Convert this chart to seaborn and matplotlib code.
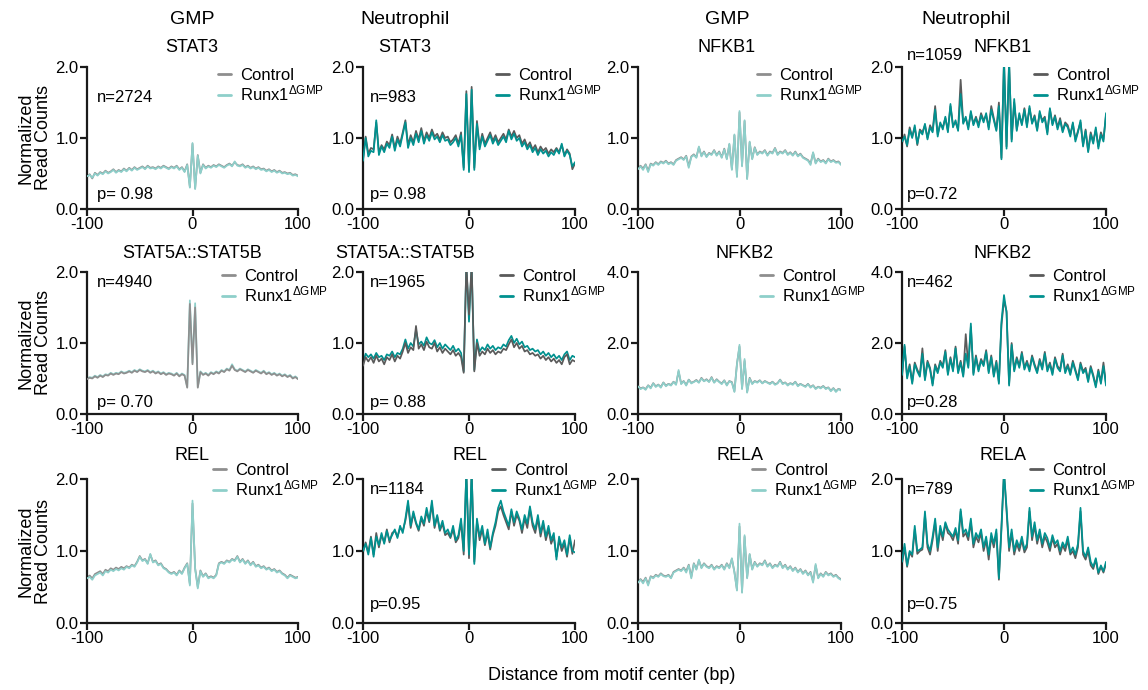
import numpy as np
import pandas as pd
import matplotlib
matplotlib.use("Agg")
import matplotlib.pyplot as plt
import seaborn as sns
from matplotlib.lines import Line2D

sns.set_style("ticks")
plt.rcParams['font.family'] = ['Liberation Sans', 'DejaVu Sans']
plt.rcParams['mathtext.fontset'] = 'custom'
plt.rcParams['mathtext.rm'] = 'Liberation Sans'
plt.rcParams['mathtext.default'] = 'regular'
plt.rcParams['axes.unicode_minus'] = False
plt.rcParams['text.color'] = 'black'
plt.rcParams['xtick.color'] = 'black'
plt.rcParams['ytick.color'] = 'black'

# distance from motif center, bp (2.5 bp bins)
pos = np.linspace(-100, 100, 81)

# ---- GMP STAT3
gmp_stat3_ctrl = [0.45,0.49,0.43,0.51,0.48,0.52,0.50,0.54,0.51,0.53,0.56,0.52,0.55,0.53,0.57,0.54,
                  0.58,0.55,0.59,0.56,0.58,0.60,0.57,0.61,0.58,0.59,0.57,0.60,0.58,0.61,0.59,0.57,
                  0.60,0.58,0.61,0.56,0.59,0.53,0.63,0.31,0.92,
                  0.29,0.76,0.51,0.63,0.58,0.61,0.59,0.62,
                  0.60,0.63,0.61,0.59,0.62,0.64,0.61,0.66,0.62,0.61,0.63,0.59,0.61,0.58,0.60,0.57,
                  0.59,0.56,0.57,0.54,0.56,0.53,0.55,0.52,0.54,0.51,0.52,0.50,0.51,0.48,0.49,0.47]
gmp_stat3_runx1 = [0.46,0.48,0.44,0.50,0.47,0.51,0.49,0.53,0.50,0.52,0.55,0.51,0.54,0.52,0.56,0.53,
                   0.57,0.54,0.58,0.55,0.57,0.59,0.56,0.60,0.57,0.58,0.56,0.59,0.57,0.60,0.58,0.56,
                   0.59,0.57,0.60,0.55,0.58,0.52,0.62,0.30,0.93,
                   0.28,0.75,0.50,0.62,0.57,0.60,0.58,0.61,
                   0.59,0.62,0.60,0.58,0.61,0.63,0.60,0.67,0.61,0.60,0.62,0.58,0.60,0.57,0.59,0.56,
                   0.58,0.55,0.56,0.53,0.55,0.52,0.54,0.51,0.53,0.50,0.51,0.49,0.50,0.47,0.48,0.46]

# ---- Neutrophil STAT3
neu_stat3_ctrl = [0.70,1.02,0.78,0.86,0.84,1.22,0.80,0.90,0.84,0.95,0.90,1.05,0.86,1.02,0.92,1.08,
                  1.25,0.90,1.04,0.94,1.10,0.98,1.14,0.96,1.08,1.00,1.12,1.02,1.06,0.98,1.08,1.00,
                  1.02,0.94,0.98,1.04,0.92,1.08,0.58,1.66,0.55,
                  1.72,0.58,1.24,0.88,1.06,0.92,1.00,1.08,
                  0.96,1.04,0.94,1.00,1.06,0.98,1.12,1.02,1.10,1.00,1.04,0.92,0.98,0.88,0.94,0.84,
                  0.90,0.80,0.88,0.82,0.86,0.78,0.84,0.80,0.86,0.80,0.90,0.76,0.84,0.78,0.56,0.64]
neu_stat3_runx1 = [0.68,1.00,0.74,0.82,0.80,1.25,0.76,0.88,0.80,0.92,0.86,1.02,0.82,0.98,0.88,1.05,
                   1.22,0.86,1.00,0.90,1.06,0.94,1.10,0.92,1.04,0.96,1.08,0.98,1.02,0.94,1.04,0.96,
                   0.98,0.90,0.94,1.00,0.88,1.04,0.55,1.62,0.52,
                   1.68,0.55,1.20,0.84,1.02,0.88,0.96,1.04,
                   0.92,1.00,0.90,0.96,1.02,0.94,1.10,0.98,1.06,0.96,1.00,0.88,0.94,0.84,0.90,0.80,
                   0.86,0.76,0.84,0.78,0.82,0.74,0.80,0.76,0.84,0.78,0.92,0.74,0.82,0.76,0.60,0.66]

# ---- GMP NFKB1
gmp_nfkb1_ctrl = [0.57,0.61,0.57,0.63,0.54,0.64,0.62,0.66,0.63,0.67,0.65,0.68,0.64,0.66,0.63,0.69,
                  0.71,0.73,0.70,0.75,0.60,0.74,0.77,0.73,0.87,0.75,0.81,0.74,0.79,0.77,0.83,0.76,
                  0.81,0.73,0.85,0.71,0.91,0.56,1.04,0.46,1.36,
                  0.61,1.24,0.43,0.94,0.71,0.87,0.77,0.81,
                  0.79,0.83,0.76,0.81,0.79,0.86,0.77,0.81,0.79,0.83,0.77,0.80,0.76,0.81,0.75,0.78,
                  0.73,0.71,0.69,0.64,0.79,0.65,0.71,0.67,0.69,0.65,0.71,0.67,0.69,0.66,0.67,0.63]
gmp_nfkb1_runx1 = [0.56,0.60,0.55,0.62,0.52,0.63,0.61,0.65,0.62,0.66,0.64,0.67,0.63,0.65,0.62,0.68,
                   0.70,0.72,0.69,0.74,0.58,0.73,0.76,0.72,0.88,0.74,0.80,0.73,0.78,0.76,0.82,0.75,
                   0.80,0.72,0.84,0.70,0.92,0.55,1.05,0.45,1.38,
                   0.60,1.25,0.42,0.95,0.70,0.86,0.76,0.80,
                   0.78,0.82,0.75,0.80,0.78,0.85,0.76,0.80,0.78,0.82,0.76,0.79,0.75,0.80,0.74,0.77,
                   0.72,0.70,0.68,0.62,0.80,0.64,0.70,0.66,0.68,0.64,0.70,0.66,0.68,0.65,0.66,0.62]

# ---- Neutrophil NFKB1
neu_nfkb1_ctrl = [0.92,1.05,0.88,1.15,1.02,1.15,0.90,1.12,1.08,1.18,1.00,1.18,1.10,1.45,1.05,1.20,
                  1.15,1.28,1.10,1.45,1.18,1.22,1.12,1.82,1.22,1.28,1.15,1.35,1.20,1.30,1.18,1.35,
                  1.25,1.32,1.15,1.45,1.28,1.12,1.50,0.72,2.10,
                  0.88,2.05,0.98,1.50,1.12,1.32,1.20,1.42,
                  1.18,1.42,1.22,1.32,1.12,1.35,1.25,1.30,1.08,1.40,1.20,1.32,1.15,1.28,1.10,1.22,
                  1.18,1.05,1.20,0.98,1.10,1.22,0.90,1.12,0.82,1.08,0.95,1.12,0.88,1.08,0.98,1.32]
neu_nfkb1_runx1 = [0.95,1.02,0.90,1.12,1.00,1.18,0.92,1.10,1.05,1.20,0.98,1.15,1.08,1.40,1.02,1.22,
                   1.12,1.30,1.08,1.48,1.15,1.25,1.10,1.62,1.20,1.30,1.12,1.38,1.18,1.28,1.15,1.32,
                   1.22,1.35,1.12,1.40,1.25,1.10,1.45,0.70,2.10,
                   0.85,2.10,0.95,1.55,1.10,1.35,1.18,1.40,
                   1.15,1.45,1.20,1.30,1.10,1.38,1.22,1.28,1.05,1.42,1.18,1.30,1.12,1.25,1.08,1.20,
                   1.15,1.02,1.22,0.95,1.08,1.25,0.88,1.10,0.80,1.05,0.92,1.15,0.85,1.05,0.95,1.35]

# ---- GMP STAT5A::STAT5B
gmp_stat5_ctrl = [0.49,0.51,0.50,0.53,0.51,0.54,0.52,0.55,0.54,0.57,0.55,0.57,0.56,0.59,0.57,0.58,
                  0.60,0.58,0.61,0.59,0.62,0.60,0.59,0.61,0.58,0.60,0.57,0.59,0.56,0.58,0.55,0.57,
                  0.56,0.54,0.57,0.53,0.56,0.54,0.37,1.55,0.70,
                  1.50,0.37,0.59,0.55,0.57,0.54,0.58,0.56,
                  0.59,0.57,0.61,0.59,0.63,0.61,0.68,0.62,0.60,0.63,0.61,0.59,0.62,0.60,0.58,0.61,
                  0.59,0.57,0.60,0.56,0.58,0.55,0.57,0.54,0.56,0.53,0.55,0.52,0.54,0.50,0.52,0.49]
gmp_stat5_runx1 = [0.50,0.52,0.51,0.54,0.52,0.55,0.53,0.56,0.55,0.58,0.56,0.58,0.57,0.60,0.58,0.59,
                   0.61,0.59,0.62,0.60,0.63,0.61,0.60,0.62,0.59,0.61,0.58,0.60,0.57,0.59,0.56,0.58,
                   0.57,0.55,0.58,0.54,0.57,0.55,0.38,1.60,0.72,
                   1.56,0.38,0.60,0.56,0.58,0.55,0.59,0.57,
                   0.60,0.58,0.62,0.60,0.64,0.62,0.70,0.63,0.61,0.64,0.62,0.60,0.63,0.61,0.59,0.62,
                   0.60,0.58,0.61,0.57,0.59,0.56,0.58,0.55,0.57,0.54,0.56,0.53,0.55,0.51,0.53,0.50]

# ---- Neutrophil STAT5A::STAT5B
neu_stat5_ctrl = [0.68,0.80,0.74,0.80,0.72,0.82,0.74,0.78,0.70,0.80,0.76,0.84,0.74,0.82,0.78,0.88,
                  1.00,0.86,0.94,0.90,1.24,0.92,0.98,0.90,1.02,0.94,0.92,1.00,0.88,0.94,0.86,0.92,
                  0.88,0.84,0.90,0.82,0.86,0.80,0.58,2.10,1.40,
                  2.10,0.60,1.00,0.82,0.88,0.84,0.92,0.86,
                  0.90,0.84,0.88,0.86,0.92,0.90,0.98,1.05,0.94,1.00,0.92,0.96,0.88,0.90,0.84,0.86,
                  0.82,0.84,0.78,0.82,0.76,0.80,0.74,0.78,0.72,0.76,0.70,0.80,0.84,0.70,0.76,0.74]
neu_stat5_runx1 = [0.72,0.85,0.80,0.84,0.78,0.86,0.80,0.82,0.76,0.84,0.82,0.88,0.80,0.86,0.84,0.92,
                   1.05,0.92,1.00,0.95,1.18,0.98,1.02,0.96,1.08,1.00,0.98,1.04,0.94,1.00,0.92,0.98,
                   0.94,0.90,0.96,0.88,0.92,0.86,0.60,2.10,1.30,
                   2.10,0.62,1.05,0.88,0.94,0.90,0.98,0.92,
                   0.96,0.90,0.94,0.92,0.98,0.95,1.04,1.10,1.00,1.06,0.98,1.02,0.94,0.96,0.90,0.92,
                   0.88,0.90,0.84,0.88,0.82,0.86,0.80,0.84,0.78,0.82,0.76,0.84,0.88,0.76,0.82,0.80]

# ---- GMP NFKB2
gmp_nfkb2_ctrl = [0.79,0.72,0.75,0.70,0.81,0.74,0.87,0.78,0.83,0.76,0.89,0.80,0.85,0.82,0.91,0.84,
                  1.20,0.86,0.93,0.82,0.97,0.88,0.91,0.96,0.89,1.02,0.93,0.98,0.91,1.04,0.89,0.98,
                  0.91,0.86,0.95,0.82,0.93,0.90,0.64,1.42,1.90,
                  0.72,1.50,0.62,1.02,0.86,0.93,0.90,0.95,
                  0.87,0.93,0.89,0.86,0.91,0.84,0.87,0.97,0.86,0.89,0.82,0.87,0.84,0.91,0.80,0.85,
                  0.81,0.78,0.85,0.76,0.81,0.72,0.77,0.74,0.79,0.72,0.75,0.66,0.73,0.64,0.71,0.68]
gmp_nfkb2_runx1 = [0.78,0.70,0.74,0.68,0.80,0.72,0.86,0.76,0.82,0.74,0.88,0.78,0.84,0.80,0.90,0.82,
                   1.24,0.84,0.92,0.80,0.96,0.86,0.90,0.94,0.88,1.00,0.92,0.96,0.90,1.02,0.88,0.96,
                   0.90,0.84,0.94,0.80,0.92,0.88,0.62,1.40,1.95,
                   0.70,1.55,0.60,1.00,0.84,0.92,0.88,0.94,
                   0.86,0.92,0.88,0.84,0.90,0.82,0.86,0.96,0.84,0.88,0.80,0.86,0.82,0.90,0.78,0.84,
                   0.80,0.76,0.84,0.74,0.80,0.70,0.76,0.72,0.78,0.70,0.74,0.64,0.72,0.62,0.70,0.66]

# ---- Neutrophil NFKB2
neu_nfkb2_ctrl = [1.05,1.90,1.05,1.40,0.90,1.45,1.25,1.10,1.85,1.00,1.50,1.30,0.85,1.40,1.20,1.50,
                  1.35,1.80,1.15,1.60,1.25,1.90,1.20,1.50,1.10,2.25,1.35,2.45,1.15,1.65,1.25,1.55,
                  1.40,1.80,1.20,1.65,1.10,1.50,0.90,2.50,3.20,
                  2.90,0.85,2.00,1.25,1.60,1.35,1.75,1.30,
                  1.50,1.25,1.65,1.40,1.20,1.55,1.30,1.75,1.25,1.45,1.15,1.60,1.35,1.25,1.70,1.20,
                  1.40,1.15,1.50,1.25,1.00,1.45,1.20,1.30,0.95,1.35,1.10,0.80,1.25,0.90,1.45,0.85]
neu_nfkb2_runx1 = [1.10,1.95,1.00,1.35,0.85,1.40,1.20,1.05,1.70,0.95,1.45,1.25,0.80,1.35,1.15,1.45,
                   1.30,1.75,1.10,1.55,1.20,1.85,1.15,1.45,1.05,1.70,1.30,2.55,1.10,1.60,1.20,1.50,
                   1.35,1.75,1.15,1.60,1.05,1.45,0.85,2.60,3.35,
                   2.85,0.80,1.95,1.20,1.55,1.30,1.70,1.25,
                   1.45,1.20,1.60,1.35,1.15,1.50,1.25,1.70,1.20,1.40,1.10,1.55,1.30,1.20,1.65,1.15,
                   1.35,1.10,1.45,1.20,0.95,1.40,1.15,1.25,0.90,1.30,1.05,0.75,1.20,0.85,1.35,0.80]

# ---- GMP REL
gmp_rel_ctrl = [0.63,0.66,0.62,0.68,0.70,0.72,0.68,0.74,0.72,0.76,0.74,0.77,0.75,0.78,0.76,0.79,
                0.77,0.81,0.79,0.85,0.93,0.87,0.89,0.83,0.95,0.85,0.87,0.81,0.83,0.77,0.75,0.71,
                0.69,0.71,0.67,0.73,0.69,0.77,0.83,0.54,1.66,
                0.76,0.50,0.73,0.65,0.69,0.63,0.65,0.63,
                0.67,0.83,0.85,0.83,0.87,0.85,0.89,0.87,0.93,0.85,0.89,0.83,0.87,0.81,0.85,0.79,
                0.81,0.77,0.79,0.75,0.77,0.73,0.75,0.71,0.73,0.69,0.67,0.63,0.67,0.65,0.63,0.64]
gmp_rel_runx1 = [0.62,0.64,0.60,0.66,0.68,0.70,0.66,0.72,0.70,0.74,0.72,0.75,0.73,0.76,0.74,0.78,
                 0.76,0.80,0.78,0.84,0.92,0.86,0.88,0.82,0.96,0.84,0.86,0.80,0.82,0.76,0.74,0.70,
                 0.68,0.70,0.66,0.72,0.68,0.76,0.82,0.52,1.70,
                 0.75,0.48,0.72,0.64,0.68,0.62,0.64,0.62,
                 0.66,0.82,0.84,0.82,0.86,0.84,0.88,0.86,0.92,0.84,0.88,0.82,0.86,0.80,0.84,0.78,
                 0.80,0.76,0.78,0.74,0.76,0.72,0.74,0.70,0.72,0.68,0.66,0.62,0.66,0.64,0.62,0.63]

# ---- Neutrophil REL
neu_rel_ctrl = [0.98,1.12,0.98,1.20,0.95,1.25,1.05,1.22,1.12,1.30,1.12,1.25,1.28,1.20,1.32,1.28,
                1.42,1.65,1.32,1.52,1.38,1.28,1.45,1.35,1.55,1.40,1.65,1.32,1.48,1.28,1.38,1.22,
                1.25,1.18,1.30,1.12,1.18,1.40,0.95,2.10,0.90,
                2.10,0.85,1.40,1.15,1.30,1.08,1.25,1.02,
                1.22,1.35,1.55,1.62,1.50,1.40,1.30,1.55,1.35,1.50,1.42,1.25,1.45,1.32,1.58,1.35,
                1.25,1.45,1.20,1.38,1.15,1.30,1.10,1.20,0.92,1.15,1.00,1.10,0.92,1.18,0.96,1.15]
neu_rel_runx1 = [1.00,1.10,0.95,1.18,0.92,1.20,1.08,1.25,1.10,1.28,1.15,1.22,1.30,1.18,1.35,1.25,
                 1.45,1.70,1.35,1.55,1.40,1.30,1.48,1.38,1.60,1.42,1.70,1.35,1.50,1.30,1.42,1.25,
                 1.30,1.20,1.35,1.15,1.22,1.45,1.00,2.10,0.95,
                 2.10,0.82,1.45,1.20,1.35,1.10,1.30,1.05,
                 1.25,1.40,1.60,1.70,1.55,1.45,1.35,1.58,1.40,1.55,1.45,1.30,1.50,1.38,1.62,1.40,
                 1.30,1.50,1.25,1.42,1.20,1.35,1.15,1.25,0.88,1.20,1.05,1.15,0.95,1.22,1.00,0.98]

# ---- GMP RELA
gmp_rela_ctrl = [0.57,0.61,0.57,0.63,0.54,0.65,0.63,0.67,0.65,0.69,0.66,0.65,0.67,0.63,0.71,0.73,
                 0.75,0.73,0.77,0.72,0.81,0.64,0.83,0.75,0.87,0.77,0.83,0.79,0.77,0.81,0.75,0.79,
                 0.77,0.81,0.75,0.83,0.77,0.89,0.71,0.46,1.34,
                 0.43,1.20,0.63,0.95,0.75,0.85,0.79,0.83,
                 0.81,0.87,0.79,0.83,0.77,0.81,0.79,0.85,0.77,0.81,0.75,0.79,0.73,0.77,0.71,0.75,
                 0.69,0.73,0.67,0.71,0.58,0.80,0.63,0.69,0.65,0.71,0.67,0.69,0.65,0.67,0.63,0.61]
gmp_rela_runx1 = [0.56,0.60,0.55,0.62,0.52,0.64,0.62,0.66,0.64,0.68,0.65,0.64,0.66,0.62,0.70,0.72,
                  0.74,0.72,0.76,0.70,0.80,0.62,0.82,0.74,0.88,0.76,0.82,0.78,0.76,0.80,0.74,0.78,
                  0.76,0.80,0.74,0.82,0.76,0.90,0.70,0.45,1.38,
                  0.42,1.22,0.62,0.96,0.74,0.84,0.78,0.82,
                  0.80,0.86,0.78,0.82,0.76,0.80,0.78,0.84,0.76,0.80,0.74,0.78,0.72,0.76,0.70,0.74,
                  0.68,0.72,0.66,0.70,0.56,0.82,0.62,0.68,0.64,0.70,0.66,0.68,0.64,0.66,0.62,0.60]

# ---- Neutrophil RELA
neu_rela_ctrl = [0.82,1.05,0.78,0.98,0.92,1.30,0.96,1.00,1.02,1.50,1.05,0.95,1.15,1.40,1.00,1.30,
                 1.15,1.38,1.25,1.22,1.15,1.28,1.10,1.55,1.20,1.25,1.15,1.40,1.05,1.20,1.12,1.25,
                 1.00,1.15,0.88,1.20,1.05,1.25,0.60,1.35,2.10,
                 1.55,1.00,1.25,0.95,1.10,1.00,1.15,0.98,
                 1.05,1.55,1.15,1.35,1.10,1.25,1.05,1.20,1.12,1.00,1.18,1.05,1.10,0.95,1.08,1.00,
                 1.15,0.95,1.00,0.90,1.05,1.55,0.95,0.88,1.00,0.80,0.75,0.88,0.68,0.78,0.70,0.82]
neu_rela_runx1 = [0.85,1.10,0.80,1.00,0.95,1.35,1.00,1.02,1.05,1.55,1.10,1.00,1.20,1.45,1.05,1.35,
                  1.20,1.40,1.30,1.25,1.20,1.32,1.15,1.58,1.25,1.30,1.20,1.45,1.10,1.25,1.18,1.30,
                  1.05,1.20,0.95,1.25,1.10,1.30,0.62,1.30,2.10,
                  1.60,1.05,1.30,1.00,1.15,1.05,1.20,1.02,
                  1.10,1.60,1.20,1.40,1.15,1.30,1.10,1.25,1.18,1.05,1.22,1.10,1.15,1.00,1.12,1.05,
                  1.20,0.98,1.05,0.95,1.10,1.60,1.00,0.92,1.05,0.85,0.78,0.90,0.70,0.80,0.72,0.85]

col_headers = ["GMP", "Neutrophil", "GMP", "Neutrophil"]
titles = [["STAT3", "STAT3", "NFKB1", "NFKB1"],
          ["STAT5A::STAT5B", "STAT5A::STAT5B", "NFKB2", "NFKB2"],
          ["REL", "REL", "RELA", "RELA"]]
n_labels = [["n=2724", "n=983", None, "n=1059"],
            ["n=4940", "n=1965", None, "n=462"],
            [None, "n=1184", None, "n=789"]]
p_labels = [["p= 0.98", "p= 0.98", None, "p=0.72"],
            ["p= 0.70", "p= 0.88", None, "p=0.28"],
            [None, "p=0.95", None, "p=0.75"]]
series = [[(gmp_stat3_ctrl, gmp_stat3_runx1), (neu_stat3_ctrl, neu_stat3_runx1),
           (gmp_nfkb1_ctrl, gmp_nfkb1_runx1), (neu_nfkb1_ctrl, neu_nfkb1_runx1)],
          [(gmp_stat5_ctrl, gmp_stat5_runx1), (neu_stat5_ctrl, neu_stat5_runx1),
           (gmp_nfkb2_ctrl, gmp_nfkb2_runx1), (neu_nfkb2_ctrl, neu_nfkb2_runx1)],
          [(gmp_rel_ctrl, gmp_rel_runx1), (neu_rel_ctrl, neu_rel_runx1),
           (gmp_rela_ctrl, gmp_rela_runx1), (neu_rela_ctrl, neu_rela_runx1)]]
ymax = [[2, 2, 2, 2], [2, 2, 4, 4], [2, 2, 2, 2]]

# colours: GMP columns light, neutrophil columns dark
ctrl_col = ["#8e8e8e", "#5a5a5a", "#8e8e8e", "#5a5a5a"]
runx_col = ["#8ecfca", "#00918f", "#8ecfca", "#00918f"]

W, H = 1148, 690
fig = plt.figure(figsize=(W / 100, H / 100), dpi=100)

col_x = [(87, 298), (363, 575), (638, 841), (902, 1106)]
row_y = [(67, 209), (272, 414), (479, 623)]
title_x = [[192, 405, 727, 1003], [192, 405, 745, 1003], [192, 470, 740, 1003]]
title_y = [47, 253, 456]
leg_x = [[218, 496, 757, 1034], [222, 500, 760, 1030], [213, 492, 752, 1030]]
leg_y = [79, 280, 474]

def fx(px):
    return px / W

def fy(py):
    return 1 - py / H

for r in range(3):
    for c in range(4):
        x0, x1 = col_x[c]
        y0, y1 = row_y[r]
        ax = fig.add_axes([fx(x0), fy(y1), (x1 - x0) / W, (y1 - y0) / H])
        ctrl, runx = series[r][c]
        df = pd.DataFrame({"pos": pos, "Control": ctrl, "Runx1": runx})
        top_ctrl = r == 1 and c < 2
        sns.lineplot(data=df, x="pos", y="Control", ax=ax, color=ctrl_col[c], lw=1.25,
                     zorder=3 if top_ctrl else 2)
        sns.lineplot(data=df, x="pos", y="Runx1", ax=ax, color=runx_col[c], lw=1.25,
                     zorder=2 if top_ctrl else 3)
        ax.set_xlim(-100, 100)
        ax.set_ylim(0, ymax[r][c])
        ax.set_xticks([-100, 0, 100])
        ax.set_yticks([0, ymax[r][c] / 2, ymax[r][c]])
        ax.set_yticklabels([f"{v:.1f}" for v in ax.get_yticks()])
        ax.set_xlabel("")
        ax.set_ylabel("")
        for s in ["top", "right"]:
            ax.spines[s].set_visible(False)
        for s in ["left", "bottom"]:
            ax.spines[s].set_linewidth(1.6)
            ax.spines[s].set_color("#1a1a1a")
        ax.tick_params(labelsize=12, width=1.6, length=5, pad=1, color="#1a1a1a")

        handles = [Line2D([], [], color=ctrl_col[c], lw=2),
                   Line2D([], [], color=runx_col[c], lw=2)]
        lx = (leg_x[r][c] - x0) / (x1 - x0)
        ly = (y1 - leg_y[r] + 11) / (y1 - y0)
        ax.legend(handles, ["Control", "Runx1$^{\\Delta GMP}$"], loc="upper left",
                  bbox_to_anchor=(lx, ly), frameon=False, fontsize=12,
                  handlelength=0.8, handletextpad=0.5, labelspacing=0.05,
                  borderpad=0, borderaxespad=0)

        fig.text(fx(title_x[r][c]), fy(title_y[r]), titles[r][c],
                 ha="center", va="center", fontsize=13)
        tx = x0 + 10 if c in (0, 1) else x0 + 5
        if c == 1:
            tx = x0 + 7
        if n_labels[r][c]:
            ny = {0: 97, 1: 282, 2: 489}[r]
            if r == 0 and c == 3:
                ny = 56
            fig.text(fx(tx), fy(ny), n_labels[r][c], ha="left", va="center", fontsize=12)
        if p_labels[r][c]:
            py = {0: 195, 1: 403, 2: 604}[r]
            fig.text(fx(tx), fy(py), p_labels[r][c], ha="left", va="center", fontsize=12)

    fig.text(fx(35), fy((row_y[r][0] + row_y[r][1]) / 2), "Normalized\nRead Counts",
             rotation=90, ha="center", va="center", fontsize=13, linespacing=1.0)

header_x = [192, 405, 727, 966]
for c in range(4):
    fig.text(fx(header_x[c]), fy(19), col_headers[c], ha="center", va="center", fontsize=14)

fig.text(fx(612), fy(676), "Distance from motif center (bp)", ha="center", va="center",
         fontsize=13)

fig.savefig("out.png", dpi=100)
